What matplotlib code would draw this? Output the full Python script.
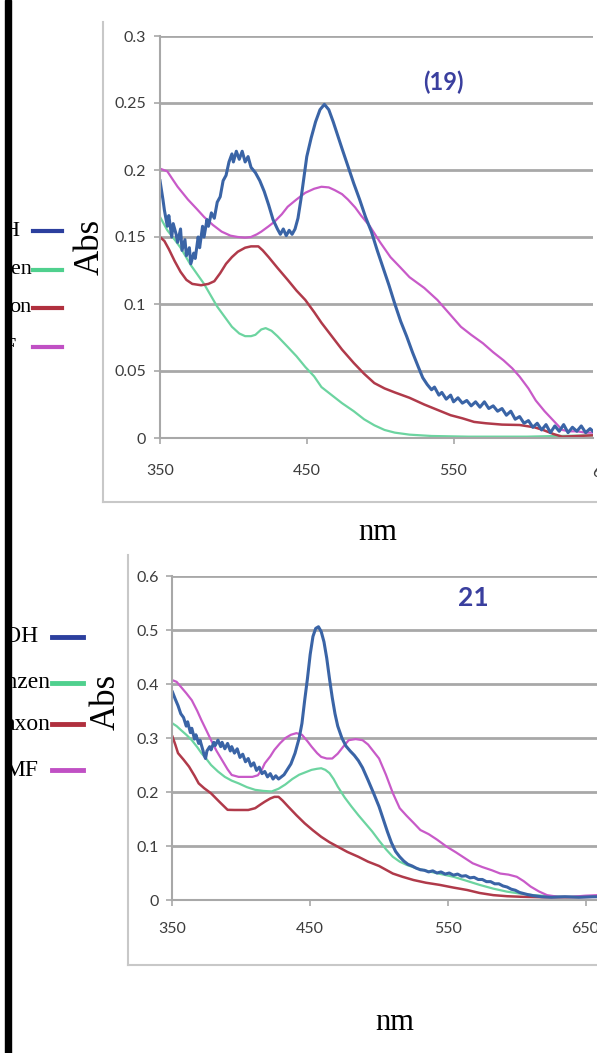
import matplotlib
matplotlib.use("Agg")
import matplotlib.pyplot as plt
from matplotlib.patches import Rectangle

W, H = 597, 1053

# panel (19)
top_blue_nm = [350, 352, 353, 355, 356, 358, 359, 361, 362, 364, 365, 367, 368, 370, 371, 373, 374, 376, 377,
               379, 380, 382, 383, 385, 387, 389, 391, 393, 395, 397, 399, 400, 402, 404, 406, 408, 410, 412,
               415, 418, 421, 424, 427, 430, 432, 434, 436, 438, 440, 442, 444, 446, 448, 450, 453, 456, 459,
               462, 465, 468, 471, 474, 478, 482, 486, 490, 494, 498, 502, 506, 510, 514, 518, 522, 526, 529,
               532, 535, 537, 540, 542, 545, 548, 550, 553, 556, 559, 562, 565, 568, 571, 574, 577, 580, 583,
               586, 589, 592, 595, 598, 601, 604, 607, 610, 613, 616, 619, 622, 625, 628, 631, 634, 637, 640,
               643, 645]
top_blue = [0.192, 0.178, 0.170, 0.158, 0.166, 0.150, 0.160, 0.152, 0.146, 0.156, 0.140, 0.148, 0.136, 0.142,
            0.130, 0.138, 0.134, 0.150, 0.142, 0.158, 0.150, 0.163, 0.158, 0.168, 0.164, 0.176, 0.180, 0.192,
            0.196, 0.206, 0.212, 0.206, 0.214, 0.208, 0.214, 0.206, 0.210, 0.202, 0.198, 0.192, 0.184, 0.174,
            0.163, 0.156, 0.152, 0.156, 0.151, 0.155, 0.152, 0.156, 0.164, 0.178, 0.194, 0.210, 0.224, 0.236,
            0.245, 0.249, 0.245, 0.236, 0.226, 0.216, 0.203, 0.190, 0.178, 0.165, 0.154, 0.140, 0.127, 0.114,
            0.100, 0.087, 0.076, 0.064, 0.053, 0.045, 0.040, 0.036, 0.038, 0.032, 0.034, 0.029, 0.032, 0.027,
            0.030, 0.026, 0.028, 0.024, 0.027, 0.023, 0.027, 0.022, 0.024, 0.020, 0.022, 0.017, 0.020, 0.014,
            0.016, 0.011, 0.013, 0.008, 0.011, 0.006, 0.010, 0.004, 0.009, 0.005, 0.010, 0.004, 0.008, 0.005,
            0.009, 0.004, 0.007, 0.005]

top_green_nm = [350, 355, 360, 364, 371, 380, 389, 399, 404, 408, 412, 415, 419, 422, 426, 430, 437, 443, 449,
                455, 460, 467, 474, 482, 489, 496, 503, 510, 520, 535, 560, 600, 620, 645]
top_green = [0.165, 0.155, 0.148, 0.142, 0.129, 0.115, 0.098, 0.083, 0.078, 0.076, 0.076, 0.077, 0.081, 0.082,
             0.080, 0.076, 0.068, 0.061, 0.053, 0.046, 0.038, 0.032, 0.026, 0.020, 0.014, 0.0095, 0.006, 0.004,
             0.0025, 0.0015, 0.001, 0.001, 0.0015, 0.002]

top_red_nm = [350, 353, 356, 360, 364, 368, 372, 378, 383, 387, 391, 395, 399, 403, 408, 412, 417, 420, 424,
              430, 437, 443, 449, 455, 460, 467, 474, 482, 489, 496, 503, 510, 520, 530, 539, 548, 556, 564,
              572, 583, 595, 605, 611, 618, 624, 635, 645]
top_red = [0.150, 0.147, 0.141, 0.132, 0.124, 0.118, 0.115, 0.114, 0.115, 0.117, 0.123, 0.130, 0.135, 0.139,
           0.142, 0.143, 0.143, 0.140, 0.135, 0.127, 0.118, 0.110, 0.103, 0.094, 0.086, 0.076, 0.066, 0.056,
           0.048, 0.041, 0.037, 0.034, 0.030, 0.025, 0.021, 0.017, 0.0147, 0.012, 0.011, 0.010, 0.0097, 0.008,
           0.006, 0.003, 0.001, 0.0015, 0.002]

top_mag_nm = [350, 355, 358, 362, 369, 375, 380, 386, 392, 398, 403, 408, 412, 416, 419, 424, 428, 433, 437,
              443, 449, 455, 460, 465, 469, 474, 478, 483, 487, 493, 500, 507, 514, 520, 530, 539, 547, 555,
              562, 570, 577, 584, 590, 595, 601, 606, 612, 618, 624, 629, 634, 640, 645]
top_mag = [0.201, 0.199, 0.194, 0.1875, 0.178, 0.171, 0.165, 0.159, 0.154, 0.151, 0.150, 0.1495, 0.150, 0.152,
           0.154, 0.158, 0.1614, 0.167, 0.1726, 0.178, 0.183, 0.186, 0.1875, 0.187, 0.185, 0.182, 0.178, 0.172,
           0.166, 0.158, 0.146, 0.135, 0.127, 0.120, 0.112, 0.103, 0.093, 0.083, 0.077, 0.0707, 0.064, 0.058,
           0.052, 0.0458, 0.037, 0.028, 0.020, 0.013, 0.006, 0.005, 0.005, 0.004, 0.004]

# panel 21
bot_blue_nm = [350, 352, 354, 356, 358, 360, 361, 363, 364, 366, 367, 369, 370, 372, 373, 374, 375, 377, 378,
               380, 381, 383, 385, 386, 388, 390, 392, 393, 395, 397, 399, 401, 403, 405, 407, 409, 411, 413,
               415, 417, 419, 421, 423, 425, 427, 429, 431, 433, 436, 439, 442, 444, 446, 448, 450, 452, 454,
               456, 458, 460, 462, 464, 466, 468, 470, 473, 476, 479, 482, 485, 488, 492, 496, 500, 503, 506,
               509, 512, 515, 518, 521, 524, 527, 530, 533, 536, 539, 542, 545, 548, 551, 554, 557, 560, 563,
               566, 569, 572, 575, 578, 581, 584, 587, 590, 593, 596, 599, 602, 605, 608, 612, 618, 625, 635,
               645, 655, 659]
bot_blue = [0.385, 0.372, 0.360, 0.345, 0.338, 0.322, 0.330, 0.310, 0.318, 0.298, 0.306, 0.290, 0.296, 0.278,
            0.268, 0.262, 0.276, 0.284, 0.278, 0.292, 0.286, 0.296, 0.284, 0.292, 0.280, 0.290, 0.276, 0.284,
            0.272, 0.280, 0.264, 0.270, 0.256, 0.262, 0.248, 0.254, 0.240, 0.246, 0.234, 0.238, 0.228, 0.234,
            0.224, 0.230, 0.224, 0.228, 0.232, 0.240, 0.252, 0.272, 0.300, 0.327, 0.370, 0.410, 0.455, 0.488,
            0.503, 0.506, 0.497, 0.478, 0.448, 0.410, 0.375, 0.345, 0.322, 0.300, 0.285, 0.276, 0.268, 0.258,
            0.245, 0.222, 0.198, 0.173, 0.150, 0.127, 0.106, 0.090, 0.080, 0.072, 0.066, 0.063, 0.059, 0.056,
            0.055, 0.052, 0.054, 0.050, 0.052, 0.048, 0.050, 0.046, 0.048, 0.044, 0.045, 0.041, 0.042, 0.038,
            0.038, 0.034, 0.034, 0.030, 0.030, 0.026, 0.024, 0.020, 0.018, 0.014, 0.012, 0.010, 0.008, 0.006,
            0.005, 0.006, 0.005, 0.006, 0.006]

bot_green_nm = [350, 353, 356, 360, 364, 368, 371, 375, 378, 383, 388, 393, 398, 404, 410, 416, 422, 427, 432,
                437, 442, 447, 451, 455, 458, 461, 464, 467, 470, 475, 480, 485, 490, 495, 500, 505, 510, 515,
                520, 528, 537, 545, 554, 563, 573, 583, 593, 602, 612, 624, 636, 659]
bot_green = [0.327, 0.322, 0.315, 0.306, 0.296, 0.283, 0.272, 0.260, 0.250, 0.238, 0.228, 0.221, 0.216, 0.209,
             0.204, 0.202, 0.201, 0.206, 0.214, 0.224, 0.232, 0.237, 0.241, 0.243, 0.244, 0.241, 0.235, 0.224,
             0.210, 0.190, 0.173, 0.157, 0.142, 0.127, 0.110, 0.094, 0.080, 0.071, 0.065, 0.058, 0.0525, 0.048,
             0.043, 0.036, 0.028, 0.021, 0.0154, 0.012, 0.009, 0.007, 0.006, 0.006]

bot_red_nm = [350, 352, 354, 358, 362, 366, 369, 373, 378, 384, 390, 395, 400, 405, 410, 414, 417, 421, 424,
              427, 430, 434, 440, 446, 452, 458, 464, 470, 477, 485, 492, 500, 505, 510, 517, 525, 534, 544,
              554, 564, 573, 583, 593, 603, 620, 636, 659]
bot_red = [0.3025, 0.288, 0.272, 0.260, 0.247, 0.230, 0.216, 0.207, 0.1975, 0.182, 0.167, 0.1667, 0.1667,
           0.1667, 0.170, 0.177, 0.182, 0.188, 0.191, 0.191, 0.184, 0.173, 0.157, 0.142, 0.129, 0.117, 0.107,
           0.0987, 0.089, 0.080, 0.071, 0.063, 0.056, 0.049, 0.043, 0.037, 0.032, 0.028, 0.023, 0.0185, 0.013,
           0.009, 0.007, 0.006, 0.005, 0.005, 0.006]

bot_mag_nm = [350, 353, 356, 360, 364, 368, 371, 375, 378, 382, 386, 390, 393, 398, 403, 408, 412, 415, 417,
              421, 424, 428, 432, 436, 440, 444, 448, 451, 455, 458, 462, 466, 470, 474, 478, 483, 488, 492,
              496, 500, 505, 510, 515, 520, 525, 530, 536, 542, 549, 556, 562, 568, 575, 582, 588, 594, 600,
              605, 610, 616, 622, 630, 640, 650, 659]
bot_mag = [0.407, 0.404, 0.395, 0.383, 0.370, 0.350, 0.333, 0.312, 0.296, 0.276, 0.259, 0.242, 0.2315, 0.228,
           0.228, 0.228, 0.231, 0.242, 0.253, 0.266, 0.278, 0.290, 0.300, 0.306, 0.309, 0.306, 0.294, 0.284,
           0.272, 0.265, 0.262, 0.262, 0.271, 0.284, 0.296, 0.298, 0.296, 0.288, 0.275, 0.262, 0.232, 0.198,
           0.170, 0.156, 0.143, 0.1296, 0.122, 0.112, 0.099, 0.088, 0.078, 0.068, 0.061, 0.055, 0.049, 0.047,
           0.043, 0.035, 0.025, 0.016, 0.009, 0.006, 0.006, 0.008, 0.009]

top_yticks = [0, 0.05, 0.1, 0.15, 0.2, 0.25, 0.3]
top_ylabels = ["0", "0.05", "0.1", "0.15", "0.2", "0.25", "0.3"]
bot_yticks = [0, 0.1, 0.2, 0.3, 0.4, 0.5, 0.6]
bot_ylabels = ["0", "0.1", "0.2", "0.3", "0.4", "0.5", "0.6"]
top_xticks = [350, 450, 550]
bot_xticks = [350, 450, 550, 650]

top_legend = ["H", "zen", "on", "F"]
bot_legend = ["OH", "enzen", "axon", "MF"]

c_blue = "#3a64a6"
c_green = "#6cd4a0"
c_red = "#b03a4a"
c_mag = "#c85ac8"
leg_colors = ["#2c3f9e", "#4fd08e", "#b0303e", "#c050c4"]
grid_c = "#a8a8a8"
frame_c = "#c8c8c8"

sans = ["Lato", "DejaVu Sans"]
serif = ["Liberation Serif", "DejaVu Serif"]


def fx(x):
    return x / W


def fy(y):
    return 1 - y / H


def px_axes(fig, l, t, r, b):
    return fig.add_axes([fx(l), fy(b), (r - l) / W, (b - t) / H])


def fig_line(fig, x0, y0, x1, y1, **kw):
    fig.add_artist(plt.Line2D([fx(x0), fx(x1)], [fy(y0), fy(y1)], transform=fig.transFigure, **kw))


def style_axes(ax, yticks, ylabels, xticks, xpad):
    ax.set_yticks(yticks)
    ax.set_yticklabels(ylabels)
    ax.set_xticks(xticks)
    ax.set_xticklabels([str(t) for t in xticks])
    ax.grid(axis="y", color=grid_c, lw=2.0)
    ax.grid(axis="x", visible=False)
    ax.set_axisbelow(True)
    for s in ["top", "right"]:
        ax.spines[s].set_visible(False)
    for s in ["left", "bottom"]:
        ax.spines[s].set_color(grid_c)
        ax.spines[s].set_linewidth(1.5)
    ax.tick_params(axis="y", length=4, width=1.2, color=grid_c, pad=6, labelsize=11.5, labelcolor="#3c3c3c")
    ax.tick_params(axis="x", length=4, width=1.2, color=grid_c, pad=xpad, labelsize=11.5, labelcolor="#3c3c3c")
    for lab in ax.get_xticklabels() + ax.get_yticklabels():
        lab.set_family(sans)
    ax.set_facecolor("none")


fig = plt.figure(figsize=(W / 100, H / 100), dpi=100)

# outer chart frames (left and bottom edges are all that show)
fig_line(fig, 103, 22, 103, 502, color=frame_c, lw=1.5)
fig_line(fig, 103, 502, 597, 502, color=frame_c, lw=1.5)
fig_line(fig, 128, 555, 128, 965, color=frame_c, lw=1.5)
fig_line(fig, 128, 965, 597, 965, color=frame_c, lw=1.5)

ax1 = px_axes(fig, 160, 36, 593, 438)
ax1.plot(top_green_nm, top_green, color=c_green, lw=1.6)
ax1.plot(top_red_nm, top_red, color=c_red, lw=1.8)
ax1.plot(top_mag_nm, top_mag, color=c_mag, lw=1.6)
ax1.plot(top_blue_nm, top_blue, color=c_blue, lw=2.2)
ax1.set_xlim(350, 645)
ax1.set_ylim(0, 0.3)
style_axes(ax1, top_yticks, top_ylabels, top_xticks, 15)
# 650 label sits past the crop edge, only a sliver shows
fig.text(fx(606), fy(473), "650", ha="center", va="center", fontsize=11.5, color="#3c3c3c", family=sans)

ax2 = px_axes(fig, 172.5, 576, 598, 900)
ax2.plot(bot_red_nm, bot_red, color=c_red, lw=1.8)
ax2.plot(bot_green_nm, bot_green, color=c_green, lw=1.6)
ax2.plot(bot_mag_nm, bot_mag, color=c_mag, lw=1.6)
ax2.plot(bot_blue_nm, bot_blue, color=c_blue, lw=2.2)
ax2.set_xlim(350, 659)
ax2.set_ylim(0, 0.6)
style_axes(ax2, bot_yticks, bot_ylabels, bot_xticks, 12)

# panel labels
fig.text(fx(443), fy(82), "(19)", ha="center", va="center", fontsize=17, fontweight="bold",
         color="#3a3f9e", family=sans)
fig.text(fx(473), fy(598), "21", ha="center", va="center", fontsize=19, fontweight="bold",
         color="#3a3f9e", family=sans)

# axis titles
fig.text(fx(90), fy(247), "Abs", rotation=90, ha="center", va="center", fontsize=25, family=serif)
fig.text(fx(106), fy(702), "Abs", rotation=90, ha="center", va="center", fontsize=25, family=serif)
fig.text(fx(378), fy(532), "nm", ha="center", va="center", fontsize=22, family=serif)
fig.text(fx(395), fy(1022), "nm", ha="center", va="center", fontsize=22, family=serif)

# cut-off legends
top_leg_y = [231, 270, 308, 347]
top_leg_end = [19, 32, 31, 16]
for name, y, xe, col in zip(top_legend, top_leg_y, top_leg_end, leg_colors):
    fig.text(fx(xe), fy(y), name, ha="right", va="center", fontsize=16, family=serif)
    fig_line(fig, 33, y, 62, y, color=col, lw=3)

bot_leg_y = [637, 683, 724, 770]
bot_leg_end = [38, 50, 50, 38]
for name, y, xe, col in zip(bot_legend, bot_leg_y, bot_leg_end, leg_colors):
    fig.text(fx(xe), fy(y), name, ha="right", va="center", fontsize=17, family=serif)
    fig_line(fig, 52, y, 83, y, color=col, lw=3.5)

# black edge on the left
fig.add_artist(Rectangle((0, 0), fx(5), 1, color="white", transform=fig.transFigure, zorder=10))
fig.add_artist(Rectangle((fx(5), 0), fx(6), 1, color="black", transform=fig.transFigure, zorder=11))

fig.savefig("out.png", dpi=100)
